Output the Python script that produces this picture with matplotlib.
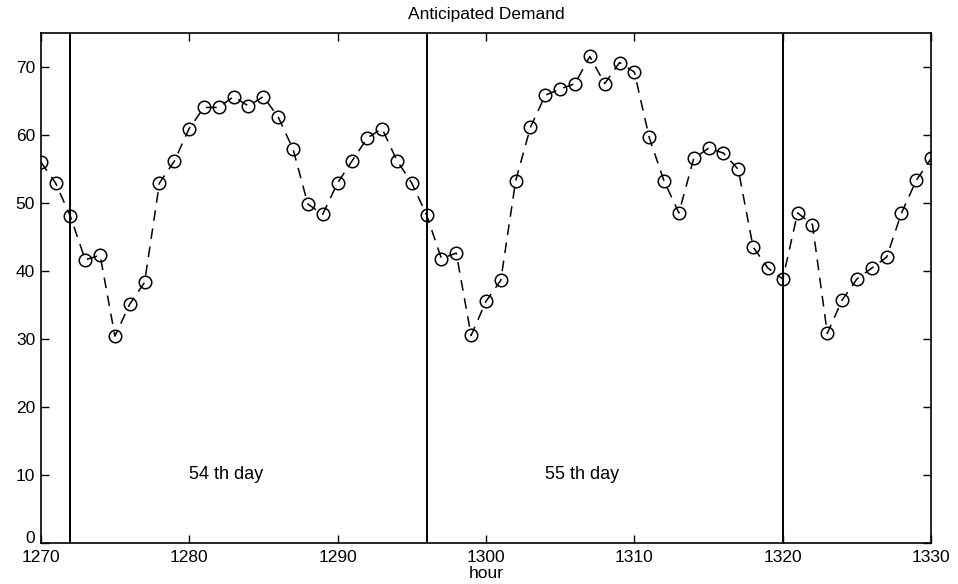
import matplotlib.pyplot as plt
import matplotlib.transforms as mtransforms

plt.rcParams['font.family'] = ['Liberation Sans', 'DejaVu Sans']

# Hourly anticipated demand, hours 1270..1330
hours = list(range(1270, 1331))
demand = [
    56.0, 52.9, 48.0, 41.6, 42.3, 30.4, 35.1, 38.3, 52.9, 56.1,
    60.9, 64.0, 64.0, 65.6, 64.2, 65.6, 62.6, 57.9, 49.8, 48.3,
    52.9, 56.2, 59.5, 60.9, 56.2, 52.9, 48.2, 41.8, 42.6, 30.5,
    35.5, 38.6, 53.2, 61.1, 65.8, 66.7, 67.5, 71.5, 67.5, 70.6,
    69.2, 59.6, 53.2, 48.5, 56.5, 58.0, 57.3, 54.9, 43.5, 40.4,
    38.8, 48.5, 46.8, 30.8, 35.7, 38.8, 40.4, 42.0, 48.5, 53.3,
    56.5,
]

# Day boundaries and labels
day_bounds = [1272, 1296, 1320]
day_labels = ['54 th day', '55 th day']
day_label_x = [1280, 1304]
day_label_y = 10


def plot_demand():
    fig = plt.figure(figsize=(9.58, 5.84), dpi=100)
    ax = fig.add_axes([0.0425, 0.0702, 0.9295, 0.874])

    ax.plot(hours, demand, linestyle='--', color='black', linewidth=1.1,
            dashes=(7, 5), marker='o', markersize=9, markerfacecolor='none',
            markeredgecolor='black', markeredgewidth=1.1)

    for b in day_bounds:
        ax.axvline(b, color='black', linewidth=1.4)

    for lx, lab in zip(day_label_x, day_labels):
        ax.text(lx, day_label_y, lab, fontsize=13, ha='left', va='center')

    ax.set_xlim(1270, 1330)
    ax.set_ylim(0, 75)
    ax.set_xticks(range(1270, 1331, 10))
    ax.set_yticks(range(0, 71, 10))
    ax.tick_params(direction='in', top=True, right=True, length=6,
                   labelsize=12.5, width=1)
    ax.tick_params(axis='x', pad=5)
    ax.tick_params(axis='y', pad=4)
    for s in ax.spines.values():
        s.set_linewidth(1.2)

    # nudge the "0" label up a little so it clears "1270"
    fig.canvas.draw()
    zero_label = ax.get_yticklabels()[0]
    zero_label.set_transform(zero_label.get_transform() +
                             mtransforms.ScaledTranslation(0, 4 / 72, fig.dpi_scale_trans))

    ax.set_title('Anticipated Demand', fontsize=12.5, pad=10)
    ax.set_xlabel('hour', fontsize=12.5, labelpad=1)

    fig.savefig('out.png', dpi=100)


if __name__ == "__main__":
    plot_demand()
